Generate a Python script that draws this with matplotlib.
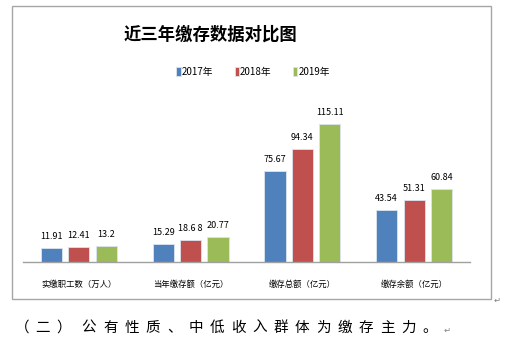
import numpy as np
import matplotlib.pyplot as plt
from matplotlib.patches import Rectangle

plt.rcParams['font.family'] = ['Noto Sans CJK SC', 'DejaVu Sans']

categories = ['实缴职工数（万人）', '当年缴存额（亿元）', '缴存总额（亿元）', '缴存余额（亿元）']
years = ['2017年', '2018年', '2019年']
v2017 = [11.91, 15.29, 75.67, 43.54]
v2018 = [12.41, 18.68, 94.34, 51.31]
v2019 = [13.2, 20.77, 115.11, 60.84]
labels2018 = ['12.41', '18.6 8', '94.34', '51.31']

colors = ['#4F81BD', '#C0504D', '#9BBB59']
num_font = ['Liberation Sans Narrow', 'Noto Sans CJK SC', 'DejaVu Sans']

W, H = 509, 354
fig = plt.figure(figsize=(W / 100, H / 100), dpi=100)

# grey frame around the chart
fig.patches.append(Rectangle((12 / W, 1 - 299 / H), 479 / W, 293 / H,
                             transform=fig.transFigure, fill=False,
                             edgecolor='#A6A6A6', lw=1.0))

ax = fig.add_axes([23 / W, 1 - 262 / H, 447 / W, 168 / H])
x = np.arange(len(categories))
width = 0.19
step = 0.246

series = [v2017, v2018, v2019]
for i, vals in enumerate(series):
    bars = ax.bar(x + (i - 1) * step, vals, width, color=colors[i],
                  edgecolor='#DCE3EE', linewidth=0.6, label=years[i])
    texts = labels2018 if i == 1 else [f'{v:g}' for v in vals]
    for b, t in zip(bars, texts):
        ax.annotate(t, (b.get_x() + b.get_width() / 2, b.get_height()),
                    xytext=(0, 5), textcoords='offset points',
                    ha='center', va='bottom', fontsize=6.5, family=num_font)

ax.set_xlim(-0.5, 3.5)
ax.set_ylim(0, 140)
ax.set_yticks([])
ax.set_xticks(x)
ax.set_xticklabels(categories, fontsize=6)
ax.tick_params(axis='x', length=0, pad=13)
for s in ['top', 'right', 'left']:
    ax.spines[s].set_visible(False)
ax.spines['bottom'].set_color('#A0A0A0')
ax.spines['bottom'].set_linewidth(1.0)
ax.patch.set_alpha(0)

fig.text(210 / W, 1 - 35 / H, '近三年缴存数据对比图', ha='center', va='center',
         fontsize=12.5, fontweight='bold')

fig.legend(loc='center', bbox_to_anchor=(253 / W, 1 - 72 / H), ncol=3,
           frameon=False, handlelength=0.45, handleheight=1.0, handletextpad=0.1,
           columnspacing=2.2, prop={'family': num_font, 'size': 7})

# caption below the chart, spaced out like the document text
head = '（二）'
body = '公有性质、中低收入群体为缴存主力。'
for k, ch in enumerate(head):
    fig.text((22 + k * 21) / W, 1 - 328 / H, ch, ha='center', va='center',
             fontsize=10.5)
for k, ch in enumerate(body):
    fig.text((89 + k * 21.3) / W, 1 - 328 / H, ch, ha='center', va='center',
             fontsize=10.5)
fig.text(447 / W, 1 - 330 / H, '↵', ha='center', va='center', fontsize=6,
         color='#808080', family='DejaVu Sans')
fig.text(497 / W, 1 - 300 / H, '↵', ha='center', va='center', fontsize=6,
         color='#808080', family='DejaVu Sans')

fig.savefig('out.png', dpi=100)
